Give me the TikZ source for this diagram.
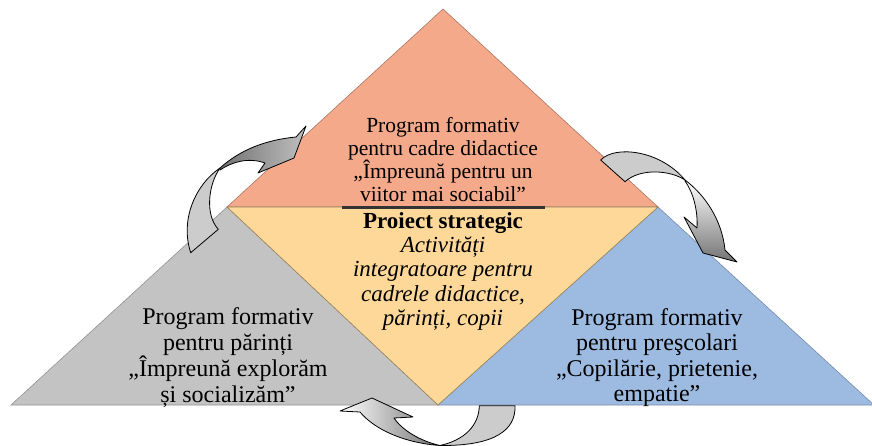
\documentclass[tikz,border=0pt]{standalone}
\usepackage{fontspec}
\setmainfont{Liberation Serif}
\definecolor{profcol}{HTML}{F4A98B}
\definecolor{corecol}{HTML}{FDD898}
\definecolor{parcol}{HTML}{C3C3C3}
\definecolor{kidcol}{HTML}{9DBBE1}
\begin{document}
\begin{tikzpicture}[x=1pt, y=-1pt, tri/.style = {line width=0.6pt, line join=miter}, txt/.style = {align=center, inner sep=0, font=\fontsize{24}{25.6}\selectfont}, back/.style = {draw=black, line width=0.8pt, fill=gray!40, line join=round}, front/.style = {draw=black, line width=0.8pt, line join=round}]
  \useasboundingbox (0, 0) rectangle (872, 446);
  \coordinate (apex) at (443, 9);
  \coordinate (lmid) at (227, 207);
  \coordinate (rmid) at (658, 207);
  \coordinate (bl) at (11, 405);
  \coordinate (bmid) at (438, 405);
  \coordinate (br) at (874, 405);
  \filldraw[tri, fill=profcol, draw=profcol!70!black] (apex) -- (rmid) -- (lmid) -- cycle;
  \filldraw[tri, fill=parcol, draw=parcol!75!black] (lmid) -- (bmid) -- (bl) -- cycle;
  \filldraw[tri, fill=kidcol, draw=kidcol!75!black] (rmid) -- (br) -- (bmid) -- cycle;
  \filldraw[tri, fill=corecol, draw=corecol!60!black] (lmid) -- (rmid) -- (bmid) -- cycle;
  \draw[line width=2.2pt, black!80] (342, 207.5) -- (545, 207.5);
  \node[txt, font=\fontsize{21.5}{23.2}\selectfont] at (443, 159.5) (prof) {Program formativ\\pentru cadre didactice\\„Împreună pentru un\\viitor mai sociabil”};
  \node[txt, font=\fontsize{23}{24.2}\selectfont] at (443, 271.4) (core) {\textbf{Proiect strategic}\\\textit{Activități}\\\textit{integratoare pentru}\\\textit{cadrele didactice,}\\\textit{părinți, copii}};
  \node[txt] at (228, 357.6) (parents) {Program formativ\\pentru părinți\\„Împreună explorăm\\și socializăm”};
  \node[txt] at (657, 357.6) (kids) {Program formativ\\pentru preşcolari\\„Copilărie, prietenie,\\empatie”};
  % left arrow
  \path[back] (190.7, 252.7) .. controls (180, 220) and (195, 185) .. (220, 168) .. controls (208, 185) and (205, 215) .. (218.3, 229.3) -- cycle;
  \path[front, left color=gray!90!black, middle color=white, right color=gray!50] (220, 168) .. controls (240, 150) and (265, 140) .. (296, 137) -- (306, 126) -- (294, 158) -- (258, 173) -- (265, 163) .. controls (248, 157) and (232, 162) .. (220, 170) -- cycle;
  % right arrow
  \path[back] (600.7, 160) .. controls (615, 145) and (660, 150) .. (685, 180) .. controls (670, 170) and (640, 168) .. (625, 181.7) -- cycle;
  \path[front, top color=white, bottom color=gray!90!black] (685, 180) .. controls (705, 195) and (722, 220) .. (725, 250) -- (737, 262) -- (703, 253) -- (684, 217) -- (697, 228) .. controls (698, 210) and (693, 192) .. (685, 181) -- cycle;
  % bottom arrow
  \path[back] (479.3, 405.7) -- (515, 405.7) .. controls (516, 430) and (495, 446) .. (440, 445.5) .. controls (465, 440) and (479, 425) .. (479.3, 405.7) -- cycle;
  \path[front, left color=white, right color=gray!90!black] (440, 445.5) .. controls (405, 443) and (375, 430) .. (360, 412) -- (340, 411) -- (372, 398) -- (413, 417) -- (394, 418) .. controls (402, 430) and (420, 441) .. (440, 445.5) -- cycle;
\end{tikzpicture}
\end{document}
